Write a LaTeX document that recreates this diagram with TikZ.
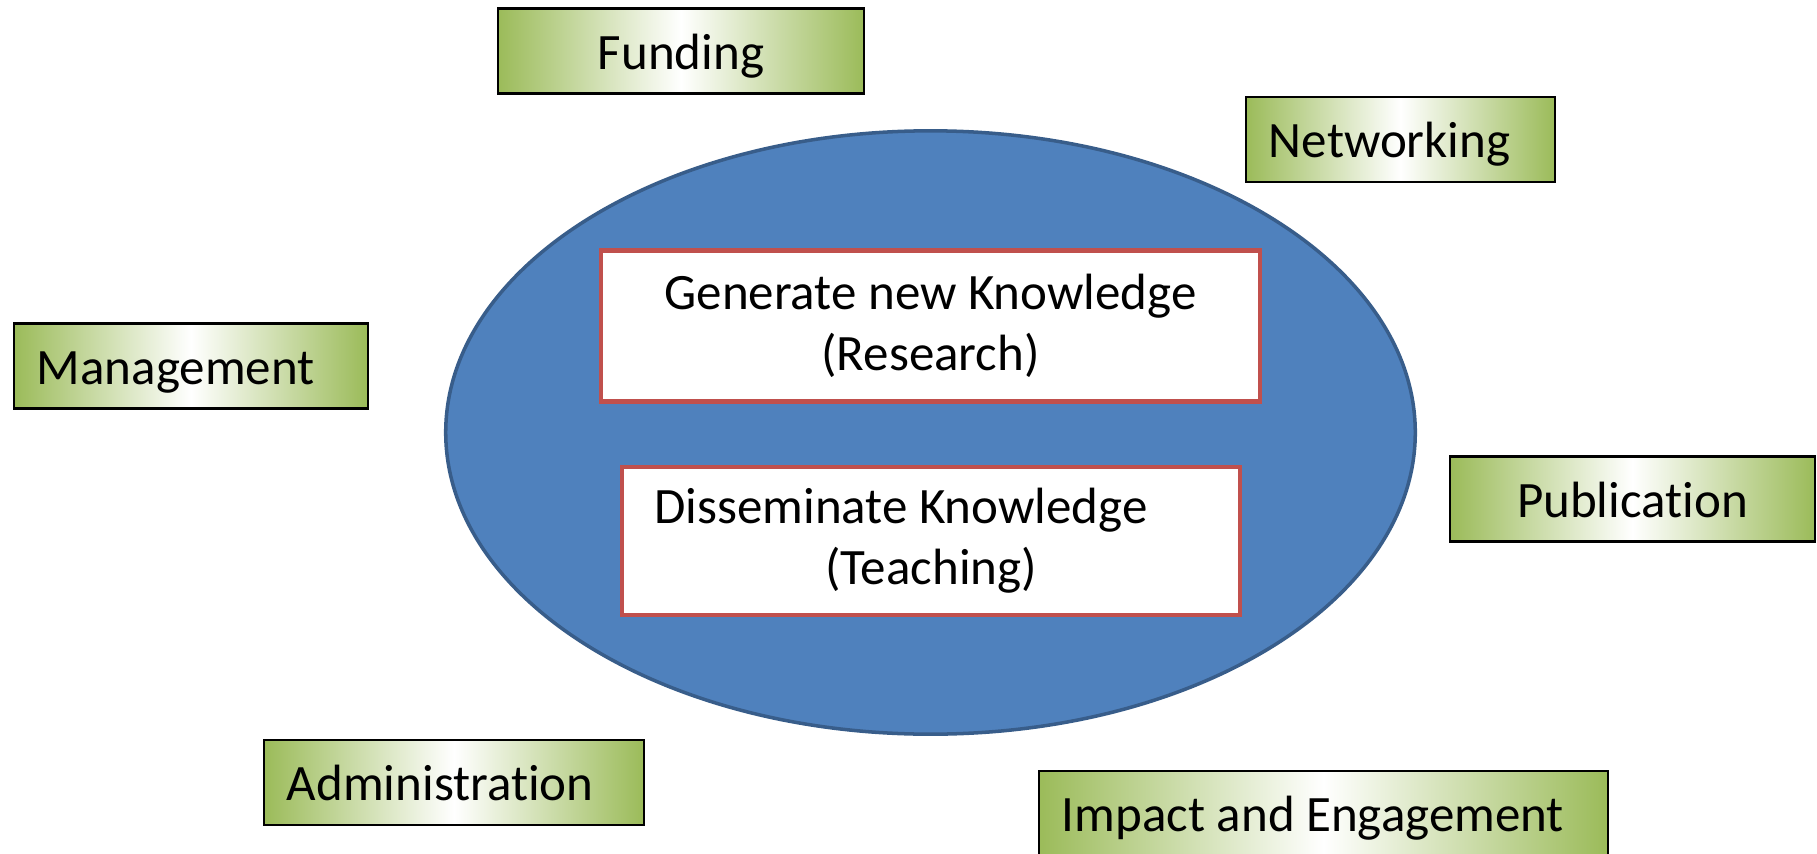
\documentclass[tikz,border=0pt]{standalone}
\usepackage{fontspec}
\setmainfont{Carlito}[Ligatures=NoCommon]
\usetikzlibrary{shapes.geometric}
\definecolor{boxgreen}{HTML}{9BBB59}
\definecolor{ovalblue}{HTML}{4F81BD}
\definecolor{ovalline}{HTML}{385D8A}
\definecolor{boxred}{HTML}{C0504D}
\begin{document}
\begin{tikzpicture}
        [x=0.01cm,y=-0.01cm,
         every node/.style={font=\fontsize{14.5}{17.4}\selectfont},
         gbox/.style={draw=black,line width=0.6pt,left color=boxgreen,
           right color=boxgreen,middle color=white,minimum height=0.85cm,
           inner xsep=0.23cm,inner ysep=0pt,text height=13.8pt,text depth=3.5pt,
           align=flush left},
         wbox/.style={draw=boxred,line width=1.3pt,fill=white,align=center}]
        \useasboundingbox (0,0) rectangle (1817,854);
        \node[ellipse,draw=ovalline,line width=1pt,fill=ovalblue,
          minimum width=9.69cm,minimum height=6.03cm] (E) at (930.5,432.5) {};
        \node[wbox,minimum width=6.59cm,minimum height=1.51cm] (R) at (930.5,326)
          {Generate new Knowledge\\(Research)};
        \node[wbox,minimum width=6.18cm,minimum height=1.48cm] (T) at (931,541)
          {Disseminate Knowledge\hspace*{0.6cm}\\(Teaching)};

        \node[gbox,text width=3.2cm,align=center] (F) at (681,51) {Funding};
        \node[gbox,text width=2.63cm] (N) at (1400.5,139.5) {Networking};
        \node[gbox,text width=3.08cm] (M) at (191,366) {Management};
        \node[gbox,text width=3.19cm,align=center] (P) at (1632.5,499) {Publication};
        \node[gbox,text width=3.34cm] (A) at (454,782.5) {Administration};
        \node[gbox,text width=5.23cm] (I) at (1323.5,813.5) {Impact and Engagement};
      \end{tikzpicture}
\end{document}
